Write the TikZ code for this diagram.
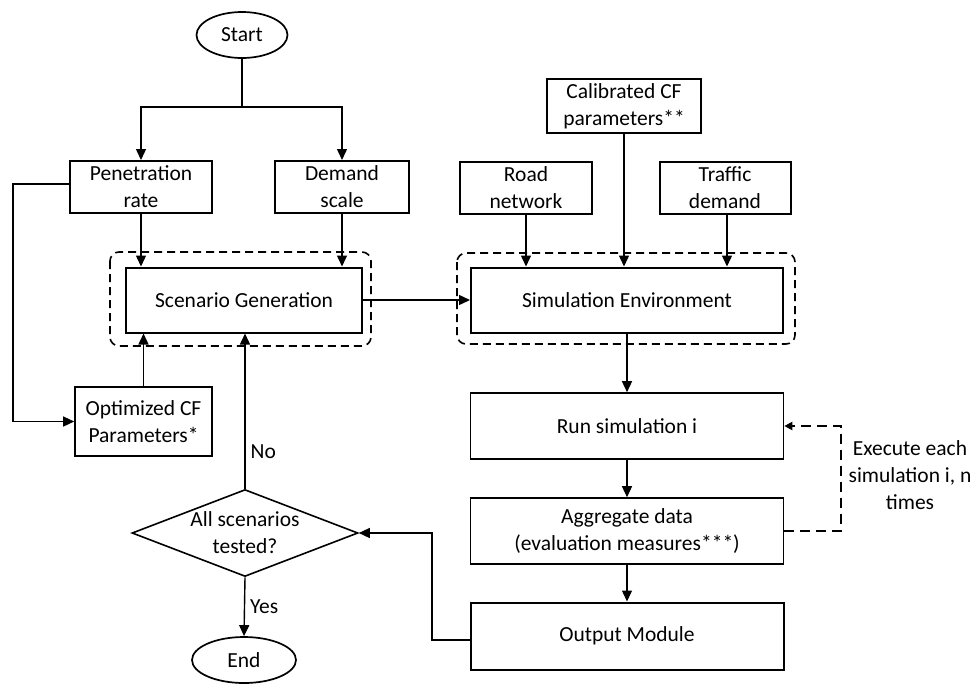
\documentclass[tikz,border=0pt]{standalone}
\usepackage{fontspec}
\setmainfont{Carlito}
\usetikzlibrary{arrows.meta,shapes.geometric}
\begin{document}
\begin{tikzpicture}[x=1pt,y=-1pt,
  font=\fontsize{21.5}{27}\selectfont,
  box/.style={draw=black, line width=2pt, rectangle, align=center, inner sep=0pt},
  oval/.style={draw=black, line width=1.7pt, ellipse, inner sep=0pt},
  dia/.style={draw=black, line width=1.6pt, diamond, inner sep=0pt},
  grp/.style={draw=black, line width=1.6pt, dash pattern=on 8pt off 5pt, rounded corners=9pt},
  conn/.style={draw=black, line width=1.4pt, -{Triangle[length=11pt,width=10pt]}},
  line/.style={draw=black, line width=1.4pt},
  loop/.style={draw=black, line width=2pt, dash pattern=on 10pt off 6pt, -{Triangle[length=8pt,width=8pt]}},
  lbl/.style={inner sep=0pt, align=center}
]
\useasboundingbox (0,0) rectangle (973,683);
\fill[white] (0,0) rectangle (973,683);

% left column
\node[oval, minimum width=91pt, minimum height=46pt] (start) at (242,35) {Start};
\node[box, minimum width=142pt, minimum height=52pt] (pen) at (141,187) {Penetration\\rate};
\node[box, minimum width=134pt, minimum height=52pt] (dem) at (342,187) {Demand\\scale};
\node[box, minimum width=236pt, minimum height=65pt] (scen) at (244,300) {Scenario Generation};
\node[box, line width=1.6pt, minimum width=137pt, minimum height=69pt] (opt) at (143.5,421.5) {Optimized CF\\Parameters*};
\node[dia, minimum width=226pt, minimum height=87pt] (test) at (245,533) {};
\node[lbl] at (245,533) {All scenarios\\tested?};
\node[oval, minimum width=104pt, minimum height=46pt] (end) at (244,660) {End};

% right column
\node[box, minimum width=154pt, minimum height=54pt] (cal) at (624,106) {Calibrated CF\\parameters**};
\node[box, minimum width=132pt, minimum height=52pt] (road) at (526,188) {Road\\network};
\node[box, minimum width=131pt, minimum height=52pt] (traf) at (725,188) {Traffic\\demand};
\node[box, minimum width=312pt, minimum height=65pt] (env) at (627,300) {Simulation Environment};
\node[box, line width=1.6pt, minimum width=313pt, minimum height=66pt] (run) at (627,426) {Run simulation i};
\node[box, line width=1.6pt, minimum width=313pt, minimum height=66pt] (agg) at (627,531) {Aggregate data\\(evaluation measures***)};
\node[box, minimum width=313pt, minimum height=67pt] (out) at (627,636) {Output Module};

% dashed groups
\draw[grp] (110,252) rectangle (371,346);
\draw[grp] (457,253) rectangle (795,344);

% connectors from start
\coordinate (split) at (242,107);
\draw[line] (start.south) -- (split);
\draw[conn] (split) -| (pen.north);
\draw[conn] (split) -| (dem.north);

\draw[conn] (pen.south) -- (pen.south |- scen.north);
\draw[conn] (dem.south) -- (dem.south |- scen.north);

\coordinate (pl) at (13,184);
\draw[conn] (pen.west |- pl) -- (pl) |- (opt.west);
\draw[conn] (opt.north) -- (opt.north |- scen.south);
\draw[conn] (test.north) -- (test.north |- scen.south) node[pos=0.24, right=5pt, lbl] {No};
\draw[conn] (test.south) -- (end.north) node[midway, right=5pt, lbl] {Yes};

% right connectors
\draw[conn] (road.south) -- (road.south |- env.north);
\draw[conn] (cal.south) -- (cal.south |- env.north);
\draw[conn] ([xshift=2pt]traf.south) -- ([xshift=2pt]traf.south |- env.north);
\draw[conn] (scen.east) -- (env.west);
\draw[conn] (env.south) -- (run.north);
\draw[conn] (run.south) -- (agg.north);
\draw[conn] (agg.south) -- (out.north);

\coordinate (oc) at (432,640);
\draw[conn] (out.west |- oc) -- (oc) |- (test.east);

\coordinate (lc) at (841,531);
\draw[loop] (agg.east) -- (lc) |- (run.east);
\node[lbl] (exec) at (910,475) {Execute each\\simulation i, n\\times};
\end{tikzpicture}
\end{document}
